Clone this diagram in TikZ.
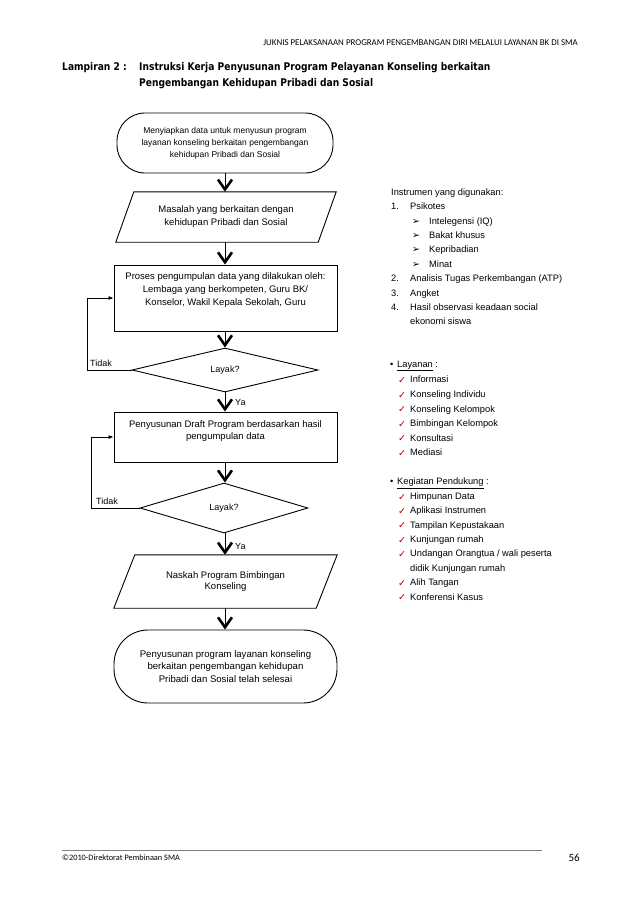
\documentclass[tikz,border=0pt]{standalone}
\usepackage{fontspec}
\setmainfont{Liberation Sans}
\newfontfamily\calib{Carlito}
\newfontfamily\titlefont[FakeStretch=0.86]{DejaVu Sans}
\newfontfamily\dejavu{DejaVu Sans}
\usetikzlibrary{arrows.meta,shapes.geometric,calc}
\definecolor{chk}{RGB}{192,0,0}
\begin{document}
\begin{tikzpicture}[x=1pt,y=-1pt,
  shp/.style={draw, line width=0.9pt, inner sep=0pt, align=center},
  term/.style={shp, rounded corners=28pt},
  rectbox/.style={shp},
  ghost/.style={inner sep=0pt, align=center},
  dia/.style={shp, diamond, aspect=4, font=\fontsize{9}{10}\selectfont},
  txt/.style={inner sep=0pt, align=center},
  flow/.style={line width=0.4pt, -{Straight Barb[length=10pt,width=14pt,line width=2.6pt]}},
  back/.style={line width=0.8pt, -{Latex[length=5pt,width=4pt]}},
  lbl/.style={anchor=west, inner sep=0pt, font=\fontsize{9}{10}\selectfont},
  rt/.style={anchor=west, inner sep=0pt, font=\fontsize{9.3}{11}\selectfont, text height=6.6pt, text depth=1.9pt},
  chkmark/.style={anchor=west, inner sep=0pt, font=\dejavu\fontsize{9.5}{10}\selectfont, text=chk},
  ttl/.style={anchor=west, inner sep=0pt, font=\titlefont\bfseries\fontsize{10.6}{12}\selectfont}
]
\useasboundingbox (0,0) rectangle (638,903);
\fill[white] (0,0) rectangle (638,903);

% header
\node[anchor=east, inner sep=0pt, font=\calib\fontsize{8.9}{10}\selectfont] (hdr) at (578,43) {JUKNIS PELAKSANAAN PROGRAM PENGEMBANGAN DIRI MELALUI LAYANAN BK DI SMA};
\node[ttl] (lamp) at (62,68) {Lampiran 2 :};
\node[ttl] (tl1) at (139,68) {Instruksi Kerja Penyusunan Program Pelayanan Konseling berkaitan};
\node[ttl] (tl2) at (139,84) {Pengembangan Kehidupan Pribadi dan Sosial};

% flowchart
\node[term, minimum width=216pt, minimum height=60pt, font=\fontsize{8.5}{12}\selectfont] (t1) at (225,143)
  {Menyiapkan data untuk menyusun program\\layanan konseling berkaitan pengembangan\\kehidupan Pribadi dan Sosial};

\node[ghost, minimum width=220pt, minimum height=50pt, font=\fontsize{9.5}{13}\selectfont] (p1) at (226,217)
  {Masalah yang berkaitan dengan\\kehidupan Pribadi dan Sosial};
\draw[line width=0.9pt] ([xshift=18pt]p1.north west) -- (p1.north east) -- ([xshift=-18pt]p1.south east) -- (p1.south west) -- cycle;

\node[rectbox, minimum width=223pt, minimum height=66pt] (r1) at (225.5,298) {};
\node[txt, font=\fontsize{9.5}{13}\selectfont] (r1t) at (225.5,290)
  {Proses pengumpulan data yang dilakukan oleh:\\Lembaga yang berkompeten, Guru BK/\\Konselor, Wakil Kepala Sekolah, Guru};

\node[dia, minimum width=186pt, minimum height=44pt] (d1) at (225,370) {Layak?};

\node[rectbox, minimum width=223pt, minimum height=50pt] (r2) at (225.5,437) {};
\node[txt, font=\fontsize{9.5}{12.5}\selectfont] (r2t) at (225.5,431)
  {Penyusunan Draft Program berdasarkan hasil\\pengumpulan data};

\node[dia, minimum width=168pt, minimum height=50pt] (d2) at (224,508) {Layak?};

\node[ghost, minimum width=223pt, minimum height=53pt, font=\fontsize{9.5}{11.5}\selectfont] (p2) at (225.5,581.5)
  {Naskah Program Bimbingan\\Konseling};
\draw[line width=0.9pt] ([xshift=21pt]p2.north west) -- (p2.north east) -- ([xshift=-21pt]p2.south east) -- (p2.south west) -- cycle;

\node[shp, rounded corners=34pt, minimum width=223pt, minimum height=73pt, font=\fontsize{9.6}{12.5}\selectfont] (t2) at (225.5,666.5)
  {Penyusunan program layanan konseling\\berkaitan pengembangan kehidupan\\Pribadi dan Sosial telah selesai};

% connectors
\draw[flow] (t1.south) -- (t1.south |- p1.north);
\draw[flow] (t1.south |- p1.south) -- (t1.south |- r1.north);
\draw[flow] (t1.south |- r1.south) -- (t1.south |- d1.north);
\draw[flow] (t1.south |- d1.south) -- (t1.south |- r2.north);
\draw[flow] (t1.south |- r2.south) -- (t1.south |- d2.north);
\draw[flow] (t1.south |- d2.south) -- (t1.south |- p2.north);
\draw[flow] (t1.south |- p2.south) -- (t1.south |- t2.north);

\coordinate (c1) at (87,370);
\coordinate (c2) at (91,508);
\draw[back] (d1.west) -- (c1) |- (r1.west);
\draw[back] (d2.west) -- (c2) |- (r2.west);

\node[lbl] (tidak1) at (90,363) {Tidak};
\node[lbl] (tidak2) at (96,501) {Tidak};
\node[lbl] (ya1) at (235,402) {Ya};
\node[lbl] (ya2) at (235,546) {Ya};

% right column: instruments
\node[rt] (ins0) at (391,193) {Instrumen yang digunakan:};
\node[rt] (n1) at (391,207.4) {1.};
\node[rt] (ins1) at (410,207.4) {Psikotes};
\foreach \t [count=\i] in {Intelegensi (IQ),Bakat khusus,Kepribadian,Minat}{
  \node[rt, font=\dejavu\fontsize{9.5}{10}\selectfont] (ar\i) at (412,{207.4+14.4*\i}) {➢};
  \node[rt] (psi\i) at (429,{207.4+14.4*\i}) {\t};
}
\node[rt] (n2) at (391,279.4) {2.};
\node[rt] (ins2) at (410,279.4) {Analisis Tugas Perkembangan (ATP)};
\node[rt] (n3) at (391,293.8) {3.};
\node[rt] (ins3) at (410,293.8) {Angket};
\node[rt] (n4) at (391,308.2) {4.};
\node[rt] (ins4) at (410,308.2) {Hasil observasi keadaan social};
\node[rt] (ins5) at (410,322.2) {ekonomi siswa};

% layanan
\node[rt] (b1) at (390,365) {•};
\node[rt] (lay0) at (397,365) {\underline{Layanan} :};
\foreach \t [count=\i] in {Informasi,Konseling Individu,Konseling Kelompok,Bimbingan Kelompok,Konsultasi,Mediasi}{
  \node[chkmark] (lc\i) at (398,{380.5+14.6*(\i-1)}) {✓};
  \node[rt] (lay\i) at (410,{380.5+14.6*(\i-1)}) {\t};
}

% kegiatan pendukung
\node[rt] (b2) at (390,482.5) {•};
\node[rt] (keg0) at (397,482.5) {\underline{Kegiatan Pendukung} :};
\foreach \k/\t in {0/{Himpunan Data},1/{Aplikasi Instrumen},2/{Tampilan Kepustakaan},3/{Kunjungan rumah},4/{Undangan Orangtua / wali peserta},6/{Alih Tangan},7/{Konferensi Kasus}}{
  \node[chkmark] (kc\k) at (398,{497+14.4*\k}) {✓};
  \node[rt] (keg\k) at (410,{497+14.4*\k}) {\t};
}
\node[rt] (keg5) at (410,{497+14.4*5}) {didik Kunjungan rumah};

% footer
\draw[gray, line width=0.6pt] (62,850) -- (542,850);
\node[anchor=west, inner sep=0pt, font=\calib\fontsize{8.3}{10}\selectfont] (ft) at (62,858) {©2010-Direktorat Pembinaan SMA};
\node[anchor=east, inner sep=0pt, font=\calib\fontsize{11}{12}\selectfont] (pg) at (580,858) {56};
\end{tikzpicture}
\end{document}
